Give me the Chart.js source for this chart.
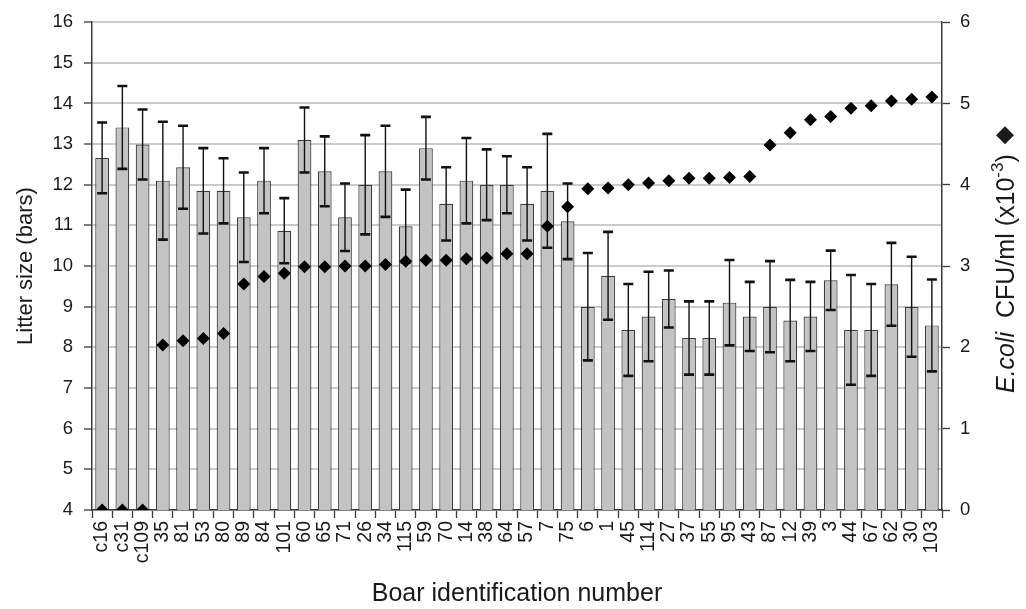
<!DOCTYPE html>
<html>
<head>
<meta charset="utf-8">
<script src="https://cdn.jsdelivr.net/npm/chart.js@4/dist/chart.umd.min.js"></script>
<style>
  html, body { margin: 0; padding: 0; background: #fff; }
</style>
</head>
<body>
<canvas id="chart" width="1026" height="609"></canvas>
<script>
// boar ids along the x axis
const boars = ['c16', 'c31', 'c109', '35', '81', '53', '80', '89', '84', '101', '60', '65', '71', '26', '34', '115', '59', '70', '14', '38', '64', '57', '7', '75', '6', '1', '45', '114', '27', '37', '55', '95', '43', '87', '12', '39', '3', '44', '67', '62', '30', '103'];

// litter size (bars) and its error (+/-)
const litterSize = [12.66, 13.41, 12.99, 12.10, 12.43, 11.85, 11.85, 11.20, 12.10, 10.87, 13.10, 12.33, 11.20, 12.00, 12.33, 10.98, 12.90, 11.53, 12.10, 12.00, 12.00, 11.53, 11.85, 11.10, 9.00, 9.76, 8.43, 8.76, 9.19, 8.23, 8.23, 9.10, 8.76, 9.00, 8.66, 8.76, 9.65, 8.43, 8.43, 9.55, 9.00, 8.54];
const litterErr = [0.87, 1.02, 0.86, 1.45, 1.02, 1.05, 0.80, 1.10, 0.80, 0.80, 0.80, 0.86, 0.83, 1.22, 1.12, 0.90, 0.77, 0.90, 1.05, 0.87, 0.70, 0.90, 1.40, 0.93, 1.32, 1.08, 1.13, 1.10, 0.70, 0.90, 0.90, 1.05, 0.85, 1.12, 1.00, 0.85, 0.73, 1.35, 1.13, 1.02, 1.23, 1.13];

// E.coli CFU/ml (x10^-3), diamonds on the right axis
const ecoli = [0, 0, 0, 2.03, 2.08, 2.11, 2.17, 2.78, 2.87, 2.91, 2.99, 2.99, 3.00, 3.00, 3.02, 3.06, 3.07, 3.07, 3.09, 3.10, 3.15, 3.15, 3.49, 3.73, 3.95, 3.96, 4.00, 4.02, 4.05, 4.08, 4.08, 4.09, 4.10, 4.49, 4.64, 4.80, 4.84, 4.94, 4.97, 5.03, 5.05, 5.08];

const FONT = 'Arial, "Liberation Sans", sans-serif';
const AXIS = '#3a3a3a';

// error bars on the bar dataset, drawn before the diamonds
const errorBars = {
    id: 'errorBars',
    afterDatasetDraw(chart, args) {
        if (args.index !== 0) return;
        const ctx = chart.ctx;
        const y = chart.scales.y;
        ctx.save();
        ctx.strokeStyle = '#111';
        args.meta.data.forEach((bar, i) => {
            const top = y.getPixelForValue(litterSize[i] + litterErr[i]);
            const bot = y.getPixelForValue(litterSize[i] - litterErr[i]);
            ctx.lineWidth = 1.4;
            ctx.beginPath();
            ctx.moveTo(bar.x, top);
            ctx.lineTo(bar.x, bot);
            ctx.stroke();
            ctx.lineWidth = 2.6;
            ctx.beginPath();
            ctx.moveTo(bar.x - 5, top);
            ctx.lineTo(bar.x + 5, top);
            ctx.moveTo(bar.x - 5, bot);
            ctx.lineTo(bar.x + 5, bot);
            ctx.stroke();
        });
        ctx.restore();
    }
};

// right axis title, reads bottom to top with italic E.coli and a superscript
const rightTitle = {
    id: 'rightTitle',
    afterDraw(chart) {
        const ctx = chart.ctx;
        const size = 25;
        const parts = [
            { t: 'E.coli', f: 'italic ' + size + 'px ' + FONT, dy: 0 },
            { t: '  CFU/ml (x10', f: size + 'px ' + FONT, dy: 0 },
            { t: '-3', f: '17px ' + FONT, dy: -11 },
            { t: ') ', f: size + 'px ' + FONT, dy: 0 }
        ];
        ctx.save();
        ctx.translate(1014, 393);
        ctx.rotate(-Math.PI / 2);
        ctx.fillStyle = '#1a1a1a';
        ctx.textBaseline = 'alphabetic';
        let x = 0;
        parts.forEach(p => {
            ctx.font = p.f;
            ctx.fillText(p.t, x, p.dy);
            x += ctx.measureText(p.t).width;
        });
        // diamond marker
        const r = 9;
        const cx = x + r + 3, cy = -9;
        ctx.beginPath();
        ctx.moveTo(cx - r, cy);
        ctx.lineTo(cx, cy - r);
        ctx.lineTo(cx + r, cy);
        ctx.lineTo(cx, cy + r);
        ctx.closePath();
        ctx.fill();
        ctx.restore();
    }
};

const ctx = document.getElementById('chart').getContext('2d');
new Chart(ctx, {
    data: {
        labels: boars,
        datasets: [{
            type: 'bar',
            label: 'Litter size',
            data: litterSize,
            backgroundColor: '#c3c3c3',
            borderColor: '#3c3c3c',
            borderWidth: 1.2,
            barPercentage: 0.68,
            categoryPercentage: 1,
            yAxisID: 'y',
            order: 2
        }, {
            type: 'line',
            label: 'E.coli',
            data: ecoli,
            showLine: false,
            pointStyle: 'rectRot',
            pointRadius: 6.5,
            pointBackgroundColor: '#000',
            pointBorderColor: '#000',
            pointBorderWidth: 0,
            yAxisID: 'y2',
            order: 1
        }]
    },
    options: {
        responsive: false,
        animation: false,
        layout: { padding: { top: 18, left: 0, right: 0, bottom: 0 } },
        plugins: {
            legend: { display: false },
            tooltip: { enabled: false }
        },
        scales: {
            x: {
                offset: true,
                grid: { offset: true, drawOnChartArea: false, tickLength: 8, tickColor: AXIS, tickWidth: 1.3 },
                border: { color: AXIS, width: 1.5 },
                ticks: { autoSkip: false, minRotation: 90, maxRotation: 90, padding: 3, color: '#1a1a1a', font: { family: FONT, size: 19.5 } },
                title: { display: true, text: 'Boar identification number', color: '#1a1a1a', font: { family: FONT, size: 25 }, padding: { top: 0, bottom: 0 } },
                afterFit(scale) { scale.height = 99; }
            },
            y: {
                position: 'left',
                min: 4,
                max: 16,
                ticks: { stepSize: 1, padding: 11, color: '#1a1a1a', font: { family: FONT, size: 18.5 } },
                grid: { color: '#cbcbcb', lineWidth: 2, tickLength: 8, tickColor: AXIS, tickWidth: 1.3 },
                border: { color: AXIS, width: 1.5 },
                title: { display: true, text: 'Litter size (bars)', color: '#1a1a1a', font: { family: FONT, size: 22 }, padding: { top: 13, bottom: 0 } },
                afterFit(scale) { scale.width = 92; }
            },
            y2: {
                position: 'right',
                min: 0,
                max: 6,
                ticks: { stepSize: 1, padding: 10, color: '#1a1a1a', font: { family: FONT, size: 18.5 } },
                grid: { drawOnChartArea: false, tickLength: 8, tickColor: AXIS, tickWidth: 1.3 },
                border: { color: AXIS, width: 1.5 },
                afterFit(scale) { scale.width = 84; }
            }
        }
    },
    plugins: [errorBars, rightTitle]
});
</script>
</body>
</html>
